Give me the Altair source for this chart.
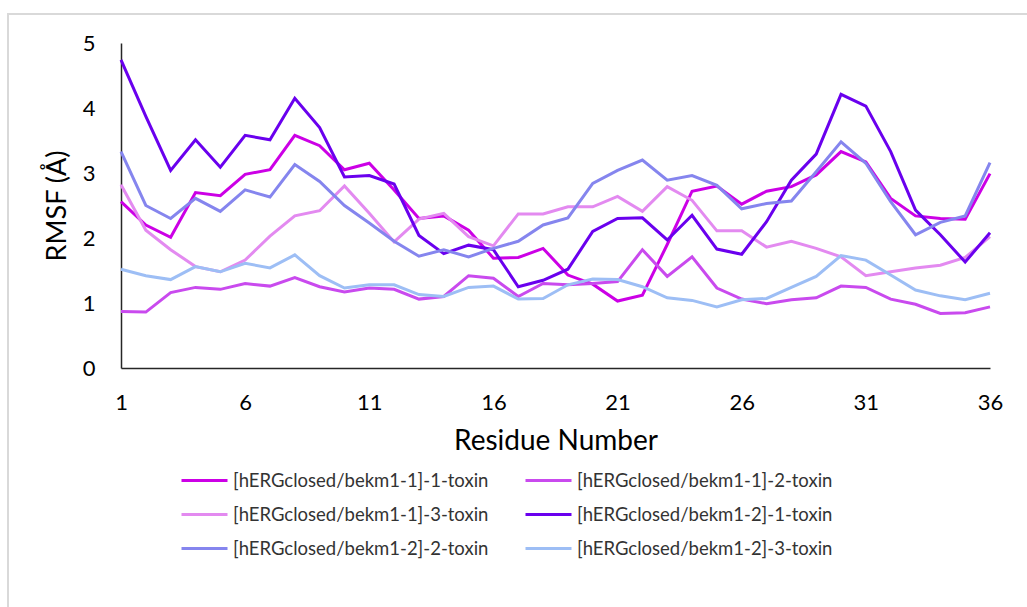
import altair as alt
import pandas as pd

# Residue numbers along the toxin sequence
residues = list(range(1, 37))

# Series names, in legend order
series_names = [
    "[hERGclosed/bekm1-1]-1-toxin",
    "[hERGclosed/bekm1-1]-2-toxin",
    "[hERGclosed/bekm1-1]-3-toxin",
    "[hERGclosed/bekm1-2]-1-toxin",
    "[hERGclosed/bekm1-2]-2-toxin",
    "[hERGclosed/bekm1-2]-3-toxin",
]

# Per-residue RMSF (Å) for each toxin copy
rmsf_b1_t1 = [2.56, 2.20, 2.01, 2.70, 2.65, 2.98, 3.05, 3.58, 3.42, 3.05, 3.15, 2.74,
              2.30, 2.34, 2.12, 1.69, 1.70, 1.84, 1.43, 1.29, 1.03, 1.12, 1.90, 2.72,
              2.80, 2.52, 2.72, 2.79, 2.97, 3.33, 3.17, 2.61, 2.34, 2.30, 2.29, 2.99]
rmsf_b1_t2 = [0.87, 0.86, 1.16, 1.24, 1.21, 1.30, 1.26, 1.39, 1.25, 1.17, 1.23, 1.21,
              1.06, 1.10, 1.42, 1.38, 1.10, 1.30, 1.28, 1.30, 1.33, 1.82, 1.41, 1.71,
              1.23, 1.06, 0.99, 1.05, 1.08, 1.26, 1.24, 1.06, 0.98, 0.84, 0.85, 0.94]
rmsf_b1_t3 = [2.82, 2.12, 1.82, 1.56, 1.48, 1.66, 2.03, 2.34, 2.42, 2.80, 2.38, 1.94,
              2.29, 2.38, 2.02, 1.88, 2.37, 2.37, 2.48, 2.48, 2.64, 2.41, 2.79, 2.58,
              2.11, 2.11, 1.86, 1.95, 1.84, 1.71, 1.42, 1.48, 1.54, 1.58, 1.70, 2.02]
rmsf_b2_t1 = [4.74, 3.87, 3.04, 3.51, 3.09, 3.58, 3.51, 4.15, 3.70, 2.94, 2.96, 2.83,
              2.04, 1.76, 1.89, 1.82, 1.25, 1.35, 1.52, 2.10, 2.30, 2.31, 1.97, 2.35,
              1.83, 1.75, 2.25, 2.89, 3.29, 4.21, 4.03, 3.33, 2.43, 2.05, 1.63, 2.08]
rmsf_b2_t2 = [3.33, 2.50, 2.30, 2.61, 2.41, 2.74, 2.63, 3.13, 2.87, 2.50, 2.23, 1.95,
              1.72, 1.82, 1.71, 1.84, 1.95, 2.20, 2.31, 2.84, 3.04, 3.20, 2.89, 2.96,
              2.81, 2.45, 2.53, 2.57, 3.02, 3.48, 3.15, 2.56, 2.05, 2.24, 2.34, 3.16]
rmsf_b2_t3 = [1.52, 1.42, 1.36, 1.56, 1.48, 1.61, 1.54, 1.74, 1.42, 1.23, 1.28, 1.28,
              1.13, 1.10, 1.24, 1.26, 1.06, 1.07, 1.28, 1.37, 1.36, 1.25, 1.08, 1.04,
              0.94, 1.05, 1.07, 1.24, 1.41, 1.73, 1.66, 1.43, 1.20, 1.11, 1.05, 1.15]

series_values = [rmsf_b1_t1, rmsf_b1_t2, rmsf_b1_t3, rmsf_b2_t1, rmsf_b2_t2, rmsf_b2_t3]
series_colors = ["#CC00E6", "#C94AEE", "#E38AF0", "#6A00EE", "#8585EE", "#9DBEF5"]

x_ticks = [1, 6, 11, 16, 21, 26, 31, 36]
y_ticks = [0, 1, 2, 3, 4, 5]

rows = []
for name, vals in zip(series_names, series_values):
    for r, v in zip(residues, vals):
        rows.append({"Residue": r, "RMSF": v, "Series": name})
df = pd.DataFrame(rows)

FONT = "Lato"
PLOT_W = 869
PLOT_H = 325

lines = alt.Chart(df).mark_line(strokeWidth=3, strokeJoin="miter").encode(
    x=alt.X(
        "Residue:Q",
        scale=alt.Scale(domain=[1, 36], nice=False, zero=False),
        axis=alt.Axis(
            values=x_ticks,
            title="Residue Number",
            titleFontSize=28,
            titleFontWeight="normal",
            titleColor="#000000",
            titlePadding=14,
            labelFontSize=22,
            labelColor="#000000",
            labelPadding=24,
            ticks=False,
            grid=False,
            domainColor="#262626",
            domainWidth=1.5,
            labelFlush=False,
        ),
    ),
    y=alt.Y(
        "RMSF:Q",
        scale=alt.Scale(domain=[0, 5], nice=False),
        axis=alt.Axis(
            values=y_ticks,
            title="RMSF (Å)",
            titleFontSize=27,
            titleFontWeight="normal",
            titleColor="#000000",
            titlePadding=11,
            labelFontSize=22,
            labelColor="#000000",
            labelPadding=26,
            ticks=False,
            grid=False,
            domainColor="#262626",
            domainWidth=1.5,
        ),
    ),
    color=alt.Color(
        "Series:N",
        sort=series_names,
        scale=alt.Scale(domain=series_names, range=series_colors),
        legend=alt.Legend(
            title=None,
            orient="none",
            direction="horizontal",
            legendX=59,
            legendY=413,
            columns=2,
            columnPadding=30,
            rowPadding=0,
            symbolType="stroke",
            symbolSize=2116,
            symbolStrokeWidth=3,
            labelFontSize=18.5,
            labelColor="#333333",
            labelOffset=4,
            labelLimit=0,
        ),
    ),
)

# Light grey outer frame of the chart area
frame = alt.Chart(pd.DataFrame({"f": [0]})).mark_rect(
    filled=False, stroke="#D9D9D9", strokeWidth=2
).encode(
    x=alt.value(-113), x2=alt.value(915),
    y=alt.value(-29), y2=alt.value(575),
)

chart = alt.layer(frame, lines).properties(
    width=PLOT_W,
    height=PLOT_H,
    autosize=alt.AutoSizeParams(type="none"),
    padding={"left": 121, "top": 43, "right": 37, "bottom": 239},
    background="#FFFFFF",
).configure(
    font=FONT,
).configure_view(
    stroke=None,
)

chart.save("out.html", embed_options={"renderer": "svg", "actions": False})
